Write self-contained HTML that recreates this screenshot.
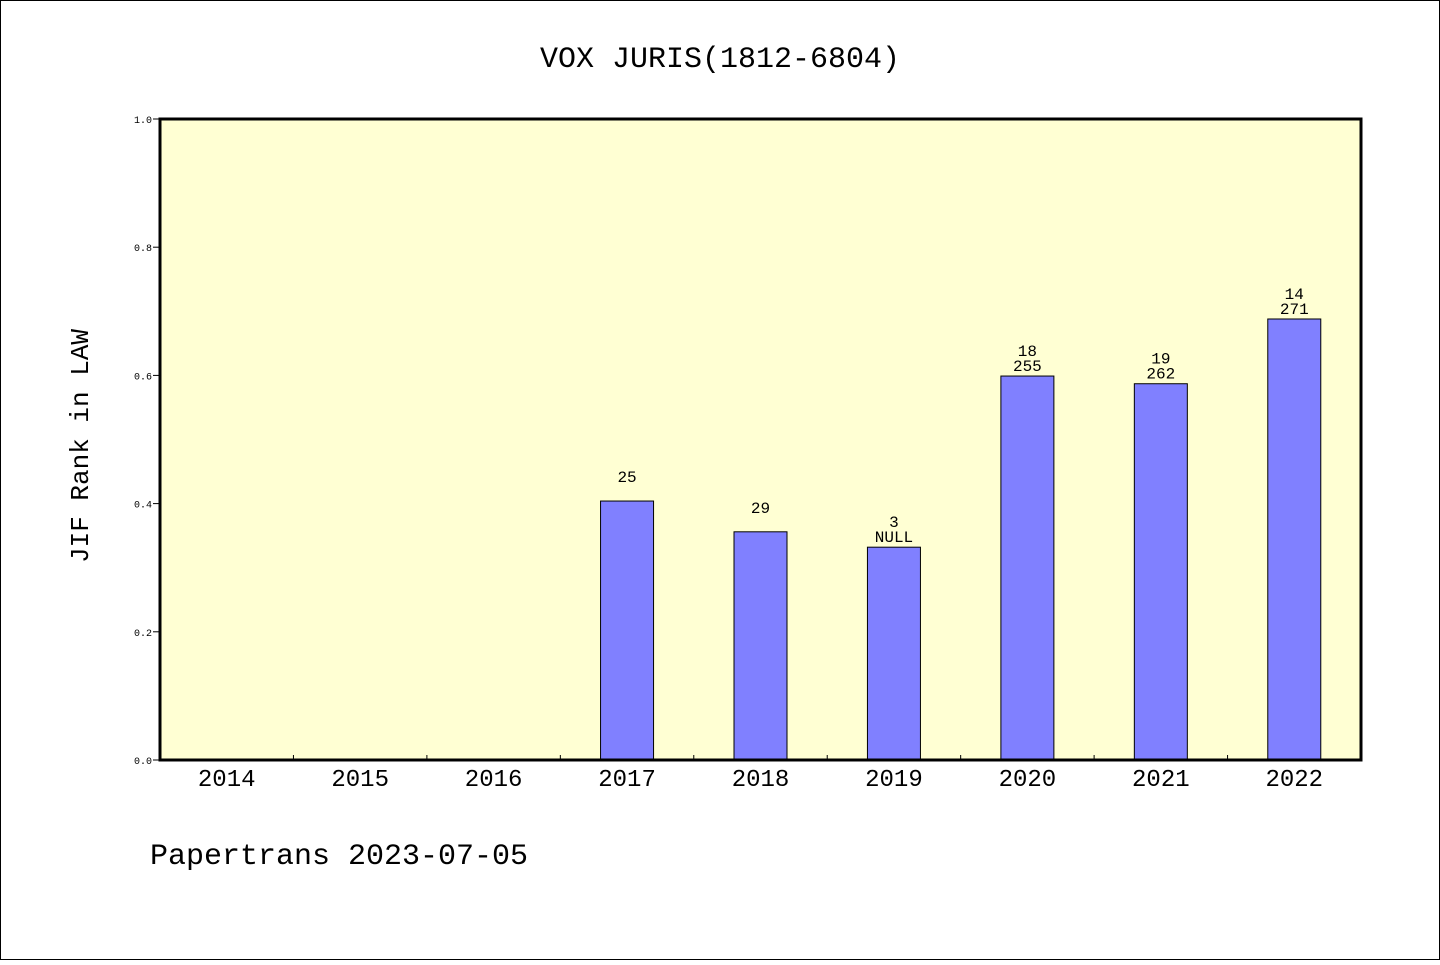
<!DOCTYPE html>
<html><head><meta charset="utf-8"><style>
body{margin:0;background:#fff}
svg text{font-family:"WenQuanYi Zen Hei","Liberation Mono",monospace;fill:#000}
</style></head><body>
<svg width="1440" height="960">
<rect x="0.5" y="0.5" width="1439" height="959" fill="#fff" stroke="#000"/>
<text x="720" y="67" font-size="30" text-anchor="middle">VOX JURIS(1812-6804)</text>
<rect x="160" y="119" width="1201" height="641" fill="#ffffd3"/>
<g id="bars"></g>
<g id="axes"></g>
<rect x="160" y="119" width="1201" height="641" fill="none" stroke="#000" stroke-width="3"/>
<text transform="translate(88,446) rotate(-90)" font-size="26" text-anchor="middle">JIF Rank in LAW</text>
<text x="150" y="864" font-size="30">Papertrans 2023-07-05</text>
</svg>
<script>
const categories=["2014","2015","2016","2017","2018","2019","2020","2021","2022"];
const values=[null,null,null,0.404,0.356,0.332,0.599,0.587,0.688];
const labelTop=[null,null,null,"25","29","3","18","19","14"];
const labelBottom=[null,null,null,null,null,"NULL","255","262","271"];
const yTicks=[0,0.2,0.4,0.6,0.8,1.0];
const NS="http://www.w3.org/2000/svg";
const L=160,R=1361,T=119,B=760;
const bw=(R-L)/categories.length;
const x=i=>L+(i+0.5)*bw;
const y=v=>B-v*(B-T);
function mk(t,a,p){const e=document.createElementNS(NS,t);for(const k in a)e.setAttribute(k,a[k]);p.appendChild(e);return e;}
const bars=document.getElementById('bars'),axes=document.getElementById('axes');
categories.forEach((c,i)=>{
  const t=mk('text',{x:x(i),y:B+26,'font-size':24,'text-anchor':'middle'},axes);
  t.textContent=c;
  
  
  if(i>0){const tk=mk('line',{x1:L+i*bw,x2:L+i*bw,y1:B-5,y2:B,stroke:'#000'},axes);
    
    }
  const v=values[i]; if(v==null)return;
  const r=mk('rect',{x:x(i)-26.5,y:y(v),width:53,height:B-y(v),fill:'#8080ff',stroke:'#000','stroke-width':1},bars);
  
  
  const two=labelBottom[i]!=null;
  if(two){
    const b=mk('text',{x:x(i),y:y(v)-5,'font-size':16,'text-anchor':'middle'},bars);
    b.textContent=labelBottom[i];
    
    
  }
  const tl=mk('text',{x:x(i),y:two?y(v)-20:y(v)-19,'font-size':16,'text-anchor':'middle'},bars);
  tl.textContent=labelTop[i];
  
  
});
yTicks.forEach(v=>{
  const l=mk('line',{x1:L-7,x2:L,y1:y(v),y2:y(v),stroke:'#000'},axes);
  
  
  const t=mk('text',{x:L-8,y:y(v)+4,'font-size':10,'text-anchor':'end'},axes);
  t.textContent=v.toFixed(1);
  
  
});
</script>
</body></html>
